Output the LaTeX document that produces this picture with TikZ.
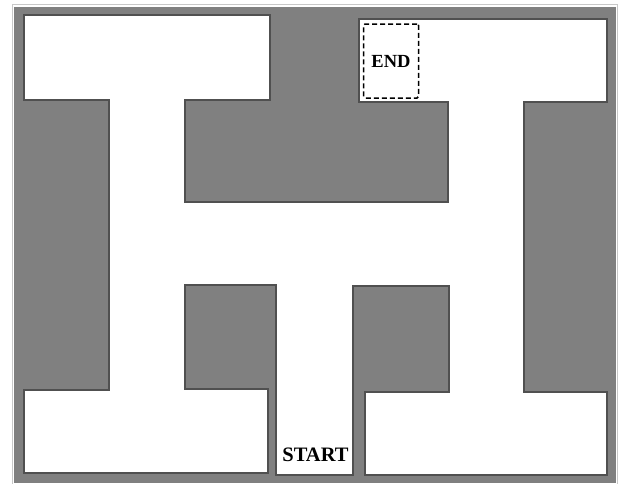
\documentclass[tikz,border=0pt]{standalone}
\usepackage{fontspec}
\setmainfont{Liberation Serif}
\usepackage{tikz}
\usetikzlibrary{positioning}

\definecolor{wallgray}{RGB}{128,128,128}
\definecolor{walledge}{RGB}{80,80,80}
\definecolor{framegray}{RGB}{200,200,200}

\tikzset{
  wall/.style={fill=wallgray},
  floor/.style={fill=white,draw=walledge,line width=1.1pt},
  goalbox/.style={draw=black,dashed,dash pattern=on 5pt off 3pt,line width=1.5pt,
    rounded corners=1.5pt,minimum width=55pt,minimum height=74pt,inner sep=0pt},
  tag/.style={font=\fontsize{18.5}{20}\selectfont\bfseries,inner sep=0pt}
}

\begin{document}
\begin{tikzpicture}[x=1pt,y=-1pt]
\useasboundingbox (0,0) rectangle (619,483);
% --- frame and walls ---
\draw[framegray,line width=1.6pt] (12.5,490) -- (12.5,4.5) -- (617.5,4.5) -- (617.5,490);
\fill[wall] (14,6.5) rectangle (616,483);
% --- open floor of the maze ---
\draw[floor] (24,15) -- (270,15) -- (270,100) -- (185,100) -- (185,202)
  -- (448,202) -- (448,102) -- (359,102) -- (359,19) -- (607,19) -- (607,102)
  -- (524,102) -- (524,392) -- (607,392) -- (607,475) -- (365,475) -- (365,392)
  -- (449,392) -- (449,286) -- (353,286) -- (353,475) -- (276,475) -- (276,285)
  -- (185,285) -- (185,389) -- (268,389) -- (268,473) -- (24,473) -- (24,390)
  -- (109,390) -- (109,100) -- (24,100) -- cycle;
% --- goal and start ---
\node[goalbox] (endbox) at (391,61) {};
\node[tag] (endtag) at (endbox.center) {END};
\node[tag,anchor=base,font=\fontsize{20.5}{22}\selectfont\bfseries] (starttag) at (315.5,461.5) {START};
\end{tikzpicture}
\end{document}
